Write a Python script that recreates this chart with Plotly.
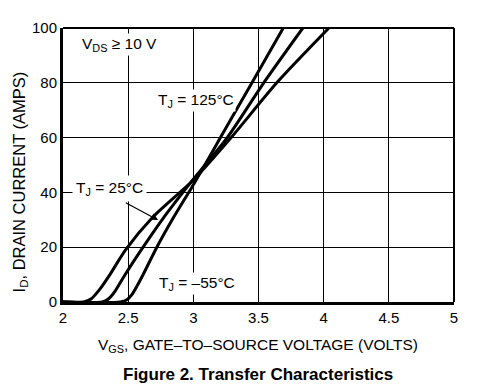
import plotly.graph_objects as go

# Gate-to-source voltage (V) and drain current (A)
vgs_steep = [2.0, 2.44, 2.49, 2.53, 2.57, 2.62, 2.72, 2.85, 2.99, 3.10, 3.22, 3.45, 3.69]
id_steep = [0, 0, 0.8, 2.8, 6, 10.5, 20, 31, 42, 51, 61, 80, 100]

vgs_mid = [2.0, 2.30, 2.35, 2.40, 2.47, 2.60, 2.76, 2.97, 3.26, 3.54, 3.84]
id_mid = [0, 0, 1.2, 4, 9.5, 19, 30, 43, 60, 80, 100]

vgs_flat = [2.0, 2.16, 2.22, 2.28, 2.36, 2.48, 2.69, 3.0, 3.29, 3.64, 4.04]
id_flat = [0, 0, 1.3, 4.5, 10, 19, 31, 44.5, 60, 80, 100]

x_ticks = [2, 2.5, 3, 3.5, 4, 4.5, 5]
x_tick_text = ["2", "2.5", "3", "3.5", "4", "4.5", "5"]
y_ticks = [0, 20, 40, 60, 80, 100]

FONT = "Liberation Sans, Arial, Helvetica, sans-serif"

fig = go.Figure()
for xs, ys, name in [(vgs_steep, id_steep, "T_J = -55°C"),
                     (vgs_mid, id_mid, "T_J = 125°C"),
                     (vgs_flat, id_flat, "T_J = 25°C")]:
    fig.add_trace(go.Scatter(x=xs, y=ys, mode="lines", name=name,
                             line=dict(color="black", width=3, shape="spline", smoothing=0.7),
                             showlegend=False, hoverinfo="skip"))

fig.update_layout(
    width=481, height=391,
    margin=dict(l=63, r=27, t=28, b=89),
    paper_bgcolor="white", plot_bgcolor="white",
    font=dict(family=FONT, size=15, color="black"),
    xaxis=dict(range=[2, 5], tickvals=x_ticks, ticktext=x_tick_text,
               showgrid=True, gridcolor="black", gridwidth=1.3,
               showline=True, linecolor="black", linewidth=3,
               ticks="", zeroline=False, fixedrange=True,
               tickfont=dict(family=FONT, size=15, color="black")),
    yaxis=dict(range=[0, 100], tickvals=y_ticks,
               showgrid=True, gridcolor="black", gridwidth=1.3,
               showline=True, linecolor="black", linewidth=3,
               ticks="", zeroline=False, fixedrange=True,
               tickfont=dict(family=FONT, size=15, color="black")),
)

# top and right frame edges
fig.add_shape(type="line", xref="paper", yref="paper", x0=0, x1=1, y0=1, y1=1,
              line=dict(color="black", width=2))
fig.add_shape(type="line", xref="paper", yref="paper", x0=1, x1=1, y0=0, y1=1,
              line=dict(color="black", width=2))

label_font = dict(family=FONT, size=15.5, color="black")
fig.add_annotation(x=2.13, y=93.8, xref="x", yref="y", text="V<sub>DS</sub> ≥ 10 V",
                   showarrow=False, xanchor="left", yanchor="middle",
                   bgcolor="white", font=label_font)
fig.add_annotation(x=2.71, y=73.7, xref="x", yref="y", text="T<sub>J</sub> = 125°C",
                   showarrow=False, xanchor="left", yanchor="middle",
                   bgcolor="white", font=label_font)
fig.add_annotation(x=2.07, y=41.6, xref="x", yref="y", text="T<sub>J</sub> = 25°C",
                   showarrow=False, xanchor="left", yanchor="middle",
                   bgcolor="white", borderpad=3, font=label_font)
fig.add_annotation(x=2.72, y=6.6, xref="x", yref="y", text="T<sub>J</sub> = –55°C",
                   showarrow=False, xanchor="left", yanchor="middle",
                   bgcolor="white", font=label_font)
# arrow for 25°C label
fig.add_annotation(x=2.73, y=29.9, ax=2.47, ay=36.5, xref="x", yref="y",
                   axref="x", ayref="y", text="", showarrow=True,
                   arrowhead=2, arrowsize=1.2, arrowwidth=1.2, arrowcolor="black")

# axis titles and caption
fig.add_annotation(x=0.499, y=-0.157, xref="paper", yref="paper",
                   text="V<sub>GS</sub>, GATE–TO–SOURCE VOLTAGE (VOLTS)",
                   showarrow=False, xanchor="center", yanchor="middle",
                   font=dict(family=FONT, size=15.5, color="black"))
fig.add_annotation(x=-0.11, y=0.44, xref="paper", yref="paper",
                   text="I<sub>D</sub>, DRAIN CURRENT (AMPS)", textangle=-90,
                   showarrow=False, xanchor="center", yanchor="middle",
                   font=dict(family=FONT, size=16.5, color="black"))
fig.add_annotation(x=0.499, y=-0.266, xref="paper", yref="paper",
                   text="<b>Figure 2. Transfer Characteristics</b>",
                   showarrow=False, xanchor="center", yanchor="middle",
                   font=dict(family=FONT, size=17, color="black"))

fig.write_html("out.html")
